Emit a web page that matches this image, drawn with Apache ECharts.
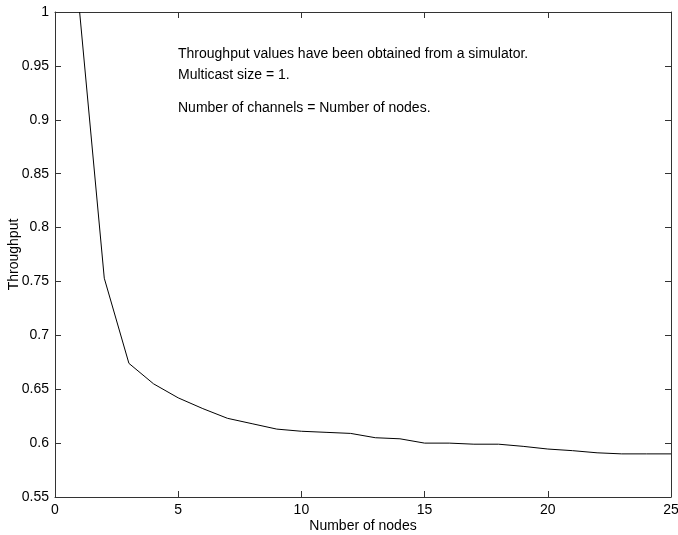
<!DOCTYPE html>
<html>
<head>
<meta charset="utf-8">
<script src="https://cdn.jsdelivr.net/npm/echarts@6/dist/echarts.min.js"></script>
<style>
  html, body { margin: 0; padding: 0; background: #fff; }
  #graph { width: 678px; height: 535px; }
</style>
</head>
<body>
<div id="graph"></div>
<script>
var chart = echarts.init(document.getElementById('graph'));

// number of nodes vs throughput
var nodes = [1, 2, 3, 4, 5, 6, 7, 8, 9, 10, 11, 12, 13, 14, 15, 16, 17, 18, 19, 20, 21, 22, 23, 24, 25];
var throughput = [1.0, 0.753, 0.674, 0.655, 0.642, 0.632, 0.623, 0.618, 0.613, 0.611, 0.610, 0.609, 0.605, 0.604, 0.600,
  0.600, 0.599, 0.599, 0.597, 0.5945, 0.593, 0.591, 0.590, 0.590, 0.590];
var notes = ['Throughput values have been obtained from a simulator.', 'Multicast size = 1.', 'Number of channels = Number of nodes.'];

var font = 'Liberation Sans, Arial, Helvetica, sans-serif';
var axisColor = '#333';

var points = nodes.map(function (n, i) { return [n, throughput[i]]; });

function boxAxis(extra) {
  var ax = {
    type: 'value',
    axisLine: { show: true, onZero: false, lineStyle: { color: axisColor, width: 1 } },
    axisTick: { show: true, inside: true, length: 6, lineStyle: { color: axisColor } },
    splitLine: { show: false },
    axisLabel: { show: false }
  };
  for (var k in extra) ax[k] = extra[k];
  return ax;
}

option = {
  animation: false,
  backgroundColor: '#fff',
  grid: { left: 55, right: 7, top: 12, bottom: 38, outerBoundsMode: 'none', containLabel: false },
  xAxis: [
    boxAxis({
      position: 'bottom', min: 0, max: 25, interval: 5,
      name: 'Number of nodes', nameLocation: 'middle', nameGap: 22, nameMoveOverlap: false,
      nameTextStyle: { color: '#000', fontSize: 14, fontFamily: font },
      axisLabel: { show: true, color: '#000', fontSize: 14, fontFamily: font, margin: 6 }
    }),
    boxAxis({ position: 'top', min: 0, max: 25, interval: 5 })
  ],
  yAxis: [
    boxAxis({
      position: 'left', min: 0.55, max: 1, interval: 0.05,
      name: 'Throughput', nameLocation: 'middle', nameGap: 34, nameMoveOverlap: false,
      nameTextStyle: { color: '#000', fontSize: 14, fontFamily: font },
      axisLabel: {
        show: true, color: '#000', fontSize: 14, fontFamily: font, margin: 6,
        formatter: function (v) { return String(Math.round(v * 100) / 100); }
      }
    }),
    boxAxis({ position: 'right', min: 0.55, max: 1, interval: 0.05 })
  ],
  graphic: [
    { type: 'text', left: 178, top: 47, style: { text: notes[0], fill: '#000', font: '14px ' + font } },
    { type: 'text', left: 178, top: 68, style: { text: notes[1], fill: '#000', font: '14px ' + font } },
    { type: 'text', left: 178, top: 101, style: { text: notes[2], fill: '#000', font: '14px ' + font } }
  ],
  series: [
    {
      type: 'line',
      data: points,
      symbol: 'none',
      smooth: false,
      clip: true,
      lineStyle: { color: '#000', width: 1 }
    }
  ]
};

option && chart.setOption(option);
</script>
</body>
</html>
